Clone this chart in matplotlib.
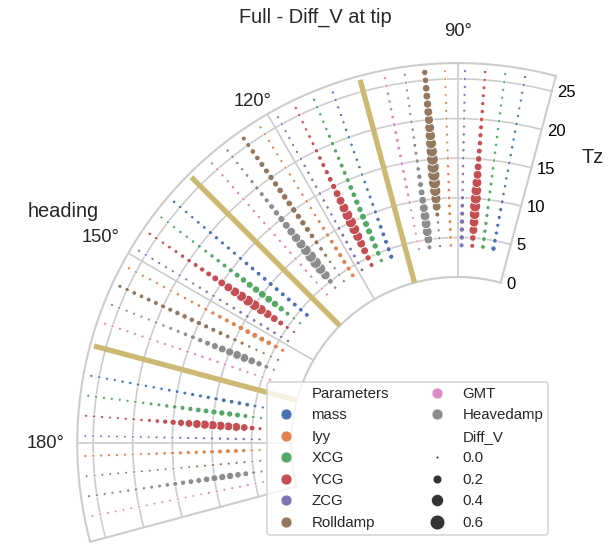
import numpy as np
import matplotlib
matplotlib.use("Agg")
import matplotlib.pyplot as plt
from matplotlib.lines import Line2D

plt.rcParams['font.family'] = ['Liberation Sans', 'DejaVu Sans']

# ---------------- data ----------------
tz = [4, 5, 6, 7, 8, 9, 10, 11, 12, 13, 14, 15, 16, 17, 18, 19, 20, 21, 22, 23, 24, 25, 26]
headings = [90, 120, 150, 180]
separators = [105, 135, 165]
# order of angular offsets around each heading
ray_order = ['mass', 'XCG', 'YCG', 'ZCG', 'Iyy', 'Rolldamp', 'Heavedamp', 'GMT']
legend_order = ['mass', 'Iyy', 'XCG', 'YCG', 'ZCG', 'Rolldamp', 'GMT', 'Heavedamp']
size_levels = [0.0, 0.2, 0.4, 0.6]

# Diff_V values per heading / parameter (Tz = 4..26)
h90_mass = [0.06, 0.04, 0.025, 0.025, 0.025, 0.025, 0.02, 0.01, 0.01, 0.01, 0.01, 0.01, 0.01, 0.01, 0.01, 0.01, 0.01, 0.005, 0.005, 0.005, 0.005, 0.005, 0.005]
h90_xcg = [0.04, 0.04, 0.03, 0.03, 0.025, 0.025, 0.025, 0.02, 0.02, 0.015, 0.015, 0.01, 0.01, 0.01, 0.01, 0.01, 0.01, 0.01, 0.005, 0.005, 0.005, 0.005, 0.005]
h90_ycg = [0.045, 0.1, 0.2, 0.25, 0.3, 0.33, 0.33, 0.3, 0.25, 0.2, 0.15, 0.1, 0.075, 0.06, 0.05, 0.045, 0.035, 0.03, 0.025, 0.02, 0.02, 0.01, 0.01]
h90_zcg = [0.05, 0.06, 0.06, 0.06, 0.05, 0.04, 0.025, 0.01, 0.01, 0.01, 0.01, 0.01, 0.01, 0.01, 0.01, 0.005, 0.005, 0.005, 0.005, 0.005, 0.005, 0.005, 0.005]
h90_iyy = [0.01, 0.015, 0.02, 0.02, 0.02, 0.02, 0.015, 0.015, 0.01, 0.01, 0.01, 0.01, 0.005, 0.005, 0.005, 0.005, 0.005, 0.005, 0.005, 0.0, 0.0, 0.0, 0.0]
h90_roll = [0.005, 0.005, 0.005, 0.01, 0.05, 0.2, 0.27, 0.33, 0.38, 0.4, 0.4, 0.37, 0.34, 0.31, 0.28, 0.25, 0.22, 0.2, 0.17, 0.15, 0.14, 0.1, 0.09]
h90_heave = [0.045, 0.2, 0.25, 0.25, 0.25, 0.2, 0.15, 0.11, 0.075, 0.055, 0.035, 0.03, 0.02, 0.02, 0.01, 0.01, 0.01, 0.005, 0.005, 0.005, 0.005, 0.005, 0.005]
h90_gmt = [0.005, 0.005, 0.005, 0.005, 0.005, 0.005, 0.015, 0.015, 0.02, 0.02, 0.02, 0.02, 0.02, 0.02, 0.02, 0.02, 0.02, 0.015, 0.015, 0.015, 0.015, 0.01, 0.01]

h120_mass = [0.05, 0.05, 0.045, 0.04, 0.04, 0.03, 0.025, 0.02, 0.02, 0.015, 0.015, 0.01, 0.01, 0.01, 0.01, 0.01, 0.01, 0.01, 0.005, 0.005, 0.005, 0.005, 0.005]
h120_xcg = [0.03, 0.07, 0.09, 0.09, 0.115, 0.115, 0.115, 0.09, 0.09, 0.07, 0.07, 0.045, 0.045, 0.045, 0.03, 0.03, 0.03, 0.025, 0.01, 0.01, 0.01, 0.01, 0.01]
h120_ycg = [0.045, 0.09, 0.15, 0.2, 0.25, 0.3, 0.33, 0.3, 0.25, 0.2, 0.15, 0.09, 0.07, 0.055, 0.045, 0.035, 0.03, 0.02, 0.015, 0.01, 0.01, 0.005, 0.005]
h120_zcg = [0.02, 0.02, 0.02, 0.02, 0.02, 0.02, 0.02, 0.01, 0.01, 0.01, 0.01, 0.01, 0.01, 0.01, 0.01, 0.01, 0.005, 0.005, 0.005, 0.005, 0.005, 0.005, 0.005]
h120_iyy = [0.04, 0.05, 0.05, 0.05, 0.045, 0.04, 0.03, 0.025, 0.02, 0.01, 0.01, 0.01, 0.01, 0.005, 0.005, 0.005, 0.005, 0.005, 0.005, 0.005, 0.005, 0.005, 0.005]
h120_roll = [0.005, 0.005, 0.005, 0.01, 0.025, 0.04, 0.05, 0.065, 0.08, 0.09, 0.09, 0.1, 0.1, 0.1, 0.1, 0.09, 0.09, 0.08, 0.08, 0.065, 0.065, 0.05, 0.05]
h120_heave = [0.01, 0.07, 0.23, 0.3, 0.35, 0.35, 0.3, 0.26, 0.23, 0.19, 0.15, 0.12, 0.09, 0.07, 0.05, 0.045, 0.03, 0.025, 0.015, 0.01, 0.01, 0.01, 0.01]
h120_gmt = [0.005, 0.005, 0.005, 0.01, 0.01, 0.01, 0.01, 0.01, 0.01, 0.01, 0.01, 0.01, 0.01, 0.01, 0.01, 0.01, 0.01, 0.01, 0.01, 0.01, 0.01, 0.01, 0.01]

h150_mass = [0.04, 0.04, 0.045, 0.045, 0.045, 0.045, 0.045, 0.04, 0.04, 0.04, 0.04, 0.025, 0.025, 0.025, 0.025, 0.025, 0.025, 0.015, 0.015, 0.01, 0.01, 0.01, 0.01]
h150_xcg = [0.005, 0.01, 0.045, 0.09, 0.13, 0.15, 0.15, 0.13, 0.115, 0.09, 0.075, 0.05, 0.045, 0.035, 0.03, 0.02, 0.02, 0.01, 0.01, 0.01, 0.005, 0.005, 0.005]
h150_ycg = [0.005, 0.025, 0.075, 0.15, 0.2, 0.27, 0.3, 0.3, 0.27, 0.24, 0.2, 0.15, 0.11, 0.075, 0.055, 0.045, 0.035, 0.03, 0.02, 0.015, 0.01, 0.01, 0.01]
h150_zcg = [0.01, 0.01, 0.015, 0.015, 0.015, 0.015, 0.015, 0.015, 0.015, 0.01, 0.01, 0.01, 0.01, 0.01, 0.005, 0.005, 0.005, 0.005, 0.005, 0.005, 0.005, 0.005, 0.005]
h150_iyy = [0.025, 0.05, 0.065, 0.08, 0.08, 0.07, 0.065, 0.05, 0.045, 0.04, 0.03, 0.025, 0.015, 0.01, 0.01, 0.01, 0.005, 0.005, 0.005, 0.005, 0.005, 0.005, 0.005]
h150_roll = [0.005, 0.005, 0.005, 0.005, 0.01, 0.025, 0.03, 0.04, 0.045, 0.05, 0.05, 0.06, 0.06, 0.06, 0.06, 0.05, 0.05, 0.045, 0.045, 0.04, 0.04, 0.03, 0.025]
h150_heave = [0.005, 0.045, 0.09, 0.15, 0.2, 0.2, 0.17, 0.15, 0.115, 0.075, 0.055, 0.045, 0.035, 0.02, 0.02, 0.01, 0.01, 0.005, 0.005, 0.005, 0.005, 0.005, 0.005]
h150_gmt = [0.005, 0.005, 0.005, 0.005, 0.01, 0.01, 0.01, 0.01, 0.01, 0.01, 0.01, 0.01, 0.005, 0.005, 0.005, 0.005, 0.005, 0.005, 0.005, 0.005, 0.005, 0.005, 0.005]

h180_mass = [0.005, 0.02, 0.04, 0.04, 0.04, 0.04, 0.03, 0.03, 0.025, 0.025, 0.02, 0.02, 0.015, 0.01, 0.01, 0.01, 0.01, 0.01, 0.01, 0.005, 0.005, 0.005, 0.005]
h180_xcg = [0.005, 0.01, 0.045, 0.075, 0.09, 0.09, 0.09, 0.075, 0.07, 0.055, 0.045, 0.035, 0.03, 0.02, 0.02, 0.01, 0.01, 0.005, 0.005, 0.005, 0.005, 0.005, 0.005]
h180_ycg = [0.02, 0.075, 0.15, 0.2, 0.2, 0.22, 0.22, 0.22, 0.2, 0.15, 0.125, 0.09, 0.055, 0.035, 0.02, 0.01, 0.01, 0.005, 0.005, 0.005, 0.005, 0.005, 0.005]
h180_zcg = [0.005, 0.005, 0.01, 0.01, 0.01, 0.01, 0.01, 0.005, 0.005, 0.005, 0.005, 0.005, 0.005, 0.005, 0.0, 0.0, 0.0, 0.0, 0.0, 0.0, 0.0, 0.0, 0.0]
h180_iyy = [0.005, 0.01, 0.03, 0.045, 0.045, 0.045, 0.04, 0.03, 0.03, 0.025, 0.025, 0.02, 0.015, 0.01, 0.01, 0.005, 0.005, 0.005, 0.005, 0.005, 0.005, 0.005, 0.005]
h180_roll = [0.0, 0.0, 0.005, 0.005, 0.005, 0.005, 0.005, 0.005, 0.005, 0.0, 0.0, 0.0, 0.0, 0.0, 0.0, 0.0, 0.0, 0.0, 0.0, 0.0, 0.0, 0.0, 0.0]
h180_heave = [0.005, 0.02, 0.075, 0.1, 0.125, 0.125, 0.115, 0.1, 0.075, 0.07, 0.055, 0.045, 0.035, 0.02, 0.02, 0.01, 0.01, 0.01, 0.005, 0.005, 0.005, 0.005, 0.005]
h180_gmt = [0.0, 0.0, 0.005, 0.005, 0.005, 0.005, 0.005, 0.005, 0.0, 0.0, 0.0, 0.0, 0.0, 0.0, 0.0, 0.0, 0.0, 0.0, 0.0, 0.0, 0.0, 0.0, 0.0]

diff_v = {
    90: {'mass': h90_mass, 'XCG': h90_xcg, 'YCG': h90_ycg, 'ZCG': h90_zcg, 'Iyy': h90_iyy,
         'Rolldamp': h90_roll, 'Heavedamp': h90_heave, 'GMT': h90_gmt},
    120: {'mass': h120_mass, 'XCG': h120_xcg, 'YCG': h120_ycg, 'ZCG': h120_zcg, 'Iyy': h120_iyy,
          'Rolldamp': h120_roll, 'Heavedamp': h120_heave, 'GMT': h120_gmt},
    150: {'mass': h150_mass, 'XCG': h150_xcg, 'YCG': h150_ycg, 'ZCG': h150_zcg, 'Iyy': h150_iyy,
          'Rolldamp': h150_roll, 'Heavedamp': h150_heave, 'GMT': h150_gmt},
    180: {'mass': h180_mass, 'XCG': h180_xcg, 'YCG': h180_ycg, 'ZCG': h180_zcg, 'Iyy': h180_iyy,
          'Rolldamp': h180_roll, 'Heavedamp': h180_heave, 'GMT': h180_gmt},
}

colors = {'mass': '#4C72B0', 'Iyy': '#DD8452', 'XCG': '#55A868', 'YCG': '#C44E52',
          'ZCG': '#8172B3', 'Rolldamp': '#937860', 'GMT': '#DA8BC3', 'Heavedamp': '#8C8C8C'}
sep_color = '#CCB974'
grid_c = '#cccccc'
text_c = '#262626'


def size_of(v):
    return 2.8 + 126.0 * np.asarray(v)


# ---------------- figure ----------------
DPI = 120
fig = plt.figure(figsize=(613 / DPI, 544 / DPI), dpi=DPI)
ax = fig.add_axes([0.119, 0.004, 0.788, 0.888], projection='polar')
ax.set_facecolor('white')
ax.set_thetamin(75)
ax.set_thetamax(195)
ax.set_rorigin(-21)
ax.set_rlim(0, 27)
ax.set_axisbelow(True)

ax.set_xticks(np.radians(headings))
ax.set_xticklabels([f'{h}°' if h != 120 else '' for h in headings], fontsize=11, color=text_c)
ax.text(np.radians(121), 29.3, '120°', fontsize=11, color=text_c, ha='center', va='center',
        clip_on=False)
ax.set_yticks([0, 5, 10, 15, 20, 25])
ax.set_yticklabels(['0', '5', '10', '15', '20', '25'], fontsize=11, color=text_c)
ax.grid(True, color=grid_c, linewidth=1.0)
for sp in ax.spines.values():
    sp.set_color(grid_c)
    sp.set_linewidth(1.25)
ax.tick_params(length=0)
ax.tick_params(axis='x', pad=12)

step = 3.1
for h in headings:
    for i, p in enumerate(ray_order):
        vals = diff_v[h][p]
        th = np.radians(np.full(len(tz), h + 0.4 + (i - 3.5) * step))
        ax.scatter(th, tz, s=size_of(vals), color=colors[p], edgecolor='white',
                   linewidth=0.5, zorder=3)

for a in separators:
    ax.plot(np.radians([a, a]), [0, 26.5], color=sep_color, linewidth=3.2, zorder=4,
            solid_capstyle='butt')

fig.text(0.514, 0.968, 'Full - Diff_V at tip', ha='center', va='center', fontsize=12, color=text_c)
fig.text(0.103, 0.612, 'heading', ha='center', va='center', fontsize=12, color=text_c)
fig.text(0.966, 0.711, 'Tz', ha='center', va='center', fontsize=12, color=text_c)

# ---------------- legend ----------------
handles, labels = [], []
col_entries = ['Parameters'] + legend_order + ['Diff_V'] + [f'{s:.1f}' for s in size_levels]
for name in col_entries:
    if name in colors:
        handles.append(Line2D([], [], linestyle='none', marker='o', markersize=6.5,
                              markerfacecolor=colors[name], markeredgecolor='white',
                              markeredgewidth=0.3))
    elif name in ('Parameters', 'Diff_V'):
        handles.append(Line2D([], [], linestyle='none'))
    else:
        v = float(name)
        handles.append(Line2D([], [], linestyle='none', marker='o',
                              markersize=float(np.sqrt(size_of(v))), markerfacecolor='#333333',
                              markeredgecolor='white', markeredgewidth=0.4))
    labels.append(name)

leg = ax.legend(handles, labels, ncol=2, loc='lower left',
                bbox_to_anchor=(0.4356, 0.0165), bbox_transform=fig.transFigure,
                borderaxespad=0.0,
                fontsize=9, frameon=True, framealpha=0.8, edgecolor=grid_c,
                borderpad=0.35, labelspacing=0.5, handlelength=1.8, handletextpad=0.8,
                columnspacing=2.3, fancybox=True)
leg.get_frame().set_linewidth(1.0)
for t in leg.get_texts():
    t.set_color(text_c)
leg.set_zorder(10)

fig.savefig('out.png', dpi=DPI)
